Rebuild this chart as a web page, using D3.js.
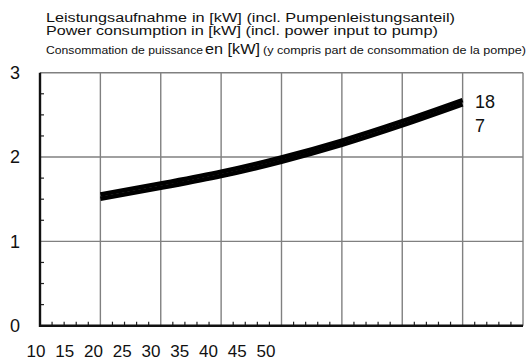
<!DOCTYPE html>
<html>
<head>
<meta charset="utf-8">
<script src="https://cdn.jsdelivr.net/npm/d3@7"></script>
<style>
  body { margin: 0; background: #fff; }
  svg { display: block; font-family: "Liberation Sans", Arial, sans-serif; }
</style>
</head>
<body>
<script>
// data
const temps = [15, 20, 25, 30, 35, 40, 45];
const power18 = [1.555, 1.685, 1.825, 1.995, 2.195, 2.425, 2.675];
const power7 = [1.505, 1.635, 1.775, 1.945, 2.145, 2.375, 2.625];
const seriesNames = ['18', '7'];
const xTickLabels = ['10', '15', '20', '25', '30', '35', '40', '45', '50'];
const yTicks = [0, 1, 2, 3];

const W = 528, H = 362;
const m = { left: 40, right: 5, top: 72.7, bottom: 36.3 };

const svg = d3.select('body').append('svg')
    .attr('width', W)
    .attr('height', H);

const x = d3.scaleLinear().domain([10, 50]).range([m.left, W - m.right]);
const y = d3.scaleLinear().domain([0, 3]).range([H - m.bottom, m.top]);

// title, three languages
const title = [
    [{ t: 'Leistungsaufnahme', x0: 46, x1: 187, s: 12.5 }, { t: 'in [kW] (incl. Pumpenleistungsanteil)', x0: 192, x1: 455, s: 12.5 }],
    [{ t: 'Power consumption', x0: 46, x1: 187, s: 12.5 }, { t: 'in [kW] (incl. power input to pump)', x0: 191, x1: 438, s: 12.5 }],
    [{ t: 'Consommation de puissance', x0: 46, x1: 203, s: 11.5 }, { t: 'en [kW]', x0: 205, x1: 260, s: 14 },
     { t: '(y compris part de consommation de la pompe)', x0: 263, x1: 526, s: 11.5 }]
];
const titleBase = [21.5, 35, 53.5];
title.forEach((row, i) => {
    row.forEach(seg => {
        svg.append('text')
            .attr('x', seg.x0)
            .attr('y', titleBase[i])
            .attr('font-size', seg.s)
            .attr('textLength', seg.x1 - seg.x0)
            .attr('lengthAdjust', 'spacingAndGlyphs')
            .attr('fill', '#111')
            .text(seg.t);
    });
});

// grid
const grid = svg.append('g').attr('stroke', '#808080').attr('stroke-width', 1.4);
grid.selectAll('line.v')
    .data(d3.range(15, 51, 5))
    .join('line')
    .attr('x1', d => x(d)).attr('x2', d => x(d))
    .attr('y1', y(3)).attr('y2', y(0));
grid.selectAll('line.h')
    .data([1, 2, 3])
    .join('line')
    .attr('class', 'h')
    .attr('x1', x(10)).attr('x2', x(50))
    .attr('y1', d => y(d)).attr('y2', d => y(d));

// minor ticks
svg.append('g').attr('stroke', '#222').attr('stroke-width', 1.2)
    .selectAll('line')
    .data(d3.range(11, 50, 1).filter(d => d % 5 !== 0))
    .join('line')
    .attr('x1', d => x(d)).attr('x2', d => x(d))
    .attr('y1', y(0)).attr('y2', y(0) - 4);
svg.append('g').attr('stroke', '#222').attr('stroke-width', 1.2)
    .selectAll('line')
    .data(d3.range(0.25, 3, 0.25).filter(d => d % 1 !== 0))
    .join('line')
    .attr('x1', x(10)).attr('x2', x(10) + 4)
    .attr('y1', d => y(d)).attr('y2', d => y(d));

// axes (left and bottom)
svg.append('path')
    .attr('d', `M${x(10)},${y(3)}V${y(0)}H${x(50)}`)
    .attr('fill', 'none')
    .attr('stroke', '#111')
    .attr('stroke-width', 2.4);

// y labels
svg.append('g').selectAll('text')
    .data(yTicks)
    .join('text')
    .attr('x', 20)
    .attr('y', d => y(d))
    .attr('dy', '0.35em')
    .attr('text-anchor', 'end')
    .attr('font-size', 18)
    .attr('fill', '#111')
    .text(d => d);

// x labels, squeezed at the lower left as in the original
const xl = d3.scalePoint().domain(xTickLabels).range([36, 266]);
svg.append('g').selectAll('text')
    .data(xTickLabels)
    .join('text')
    .attr('x', d => xl(d))
    .attr('y', 357)
    .attr('text-anchor', 'middle')
    .attr('font-size', 17)
    .attr('fill', '#111')
    .text(d => d);

// curves
const line = d3.line()
    .x((d, i) => x(temps[i]))
    .y(d => y(d))
    .curve(d3.curveMonotoneX);

[power18, power7].forEach(vals => {
    svg.append('path')
        .datum(vals)
        .attr('fill', 'none')
        .attr('stroke', '#000')
        .attr('stroke-width', 4.6)
        .attr('d', line);
});

// series labels at the end of the curves
svg.append('g').selectAll('text')
    .data(seriesNames)
    .join('text')
    .attr('x', 475)
    .attr('y', (d, i) => [108, 132][i])
    .attr('font-size', 18)
    .attr('fill', '#111')
    .text(d => d);
</script>
</body>
</html>
